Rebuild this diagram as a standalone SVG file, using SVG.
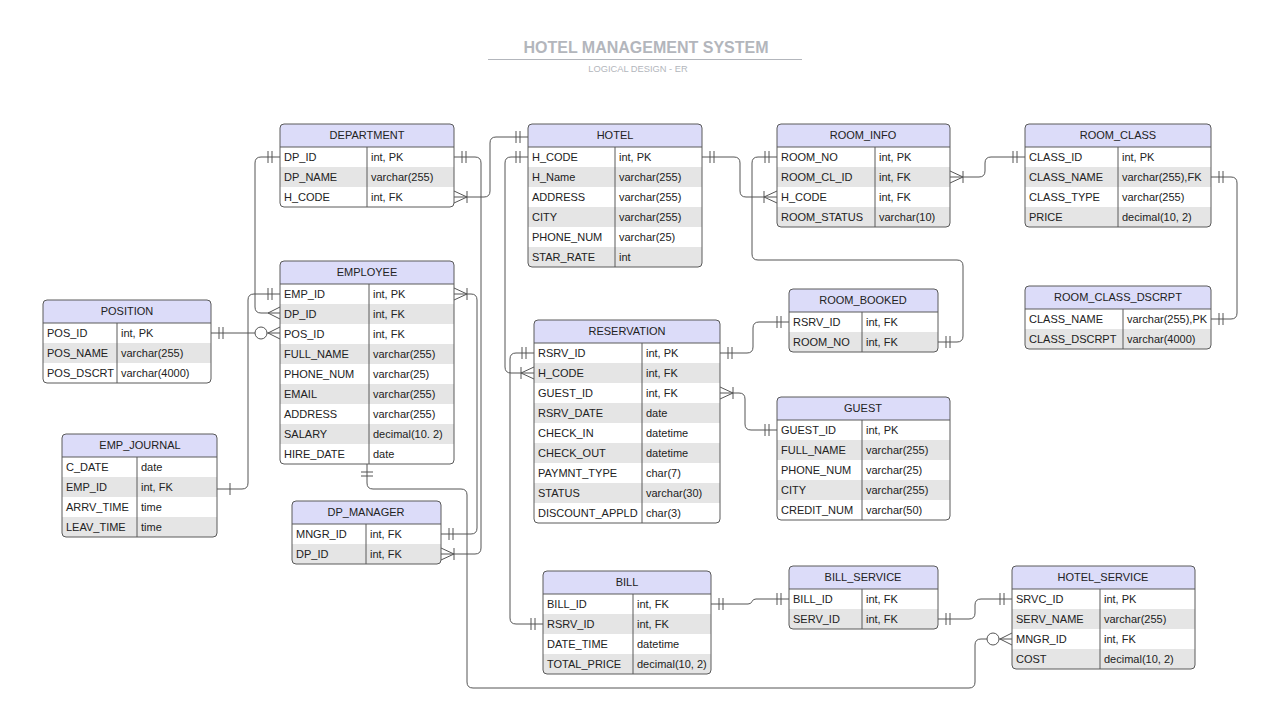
<svg xmlns="http://www.w3.org/2000/svg" width="1280" height="720" viewBox="0 0 1280 720">
<style>
.bg{fill:#fff}
.hd{fill:#dcdcf9}
.st{fill:#e5e5e5}
.bd{fill:none;stroke:#5a5a5a;stroke-width:1}
.dv{stroke:#5a5a5a;stroke-width:1}
.t{font-family:"Liberation Sans",Arial,sans-serif;font-size:11px;fill:#222}
.h{text-anchor:middle}
.c{fill:none;stroke:#555;stroke-width:1;marker-start:var(--ms);marker-end:var(--me)}
.mk{fill:none;stroke:#555;stroke-width:1}
</style>
<defs>
<marker id="one" markerUnits="userSpaceOnUse" orient="auto-start-reverse" viewBox="-30 -10 34 20" markerWidth="34" markerHeight="20" refX="0" refY="0" overflow="visible">
<path class="mk" d="M-12,-6V6M-8,-6V6"/>
</marker>
<marker id="bar" markerUnits="userSpaceOnUse" orient="auto-start-reverse" viewBox="-30 -10 34 20" markerWidth="34" markerHeight="20" refX="0" refY="0" overflow="visible">
<path class="mk" d="M-13,-6V6"/>
</marker>
<marker id="onemany" markerUnits="userSpaceOnUse" orient="auto-start-reverse" viewBox="-30 -10 34 20" markerWidth="34" markerHeight="20" refX="0" refY="0" overflow="visible">
<path class="mk" d="M-13,0L0,-6M-13,0L0,6M-13,-6V6"/>
</marker>
<marker id="many" markerUnits="userSpaceOnUse" orient="auto-start-reverse" viewBox="-30 -10 34 20" markerWidth="34" markerHeight="20" refX="0" refY="0" overflow="visible">
<path class="mk" d="M-12,0L0,-6M-12,0L0,6"/>
</marker>
<marker id="zeromany" markerUnits="userSpaceOnUse" orient="auto-start-reverse" viewBox="-30 -10 34 20" markerWidth="34" markerHeight="20" refX="0" refY="0" overflow="visible">
<path class="mk" d="M-12,0L0,-6M-12,0L0,6"/>
<circle cx="-19" cy="0" r="6" fill="#fff" stroke="#555" stroke-width="1"/>
</marker>
</defs>
<rect width="1280" height="720" fill="#fff"/>

<g id="title">
<text x="646" y="53" text-anchor="middle" font-family="Liberation Sans, Arial, sans-serif" font-size="16" font-weight="bold" fill="#b3b6bc">HOTEL MANAGEMENT SYSTEM</text>
<line x1="488" y1="59.5" x2="802" y2="59.5" stroke="#b3b6bc" stroke-width="1"/>
<text x="638" y="72" text-anchor="middle" font-family="Liberation Sans, Arial, sans-serif" font-size="9.3" fill="#b3b6bc">LOGICAL DESIGN - ER</text>
</g>

<g id="connectors">
<path class="c" style="--ms:url(#one);--me:url(#many)" d="M280,157H261Q255,157 255,163V307Q255,313 261,313H280"/>
<path class="c" style="--ms:url(#bar);--me:url(#one)" d="M217,489H242Q248,489 248,483V300Q248,294 254,294H280"/>
<path class="c" style="--ms:url(#one);--me:url(#zeromany)" d="M211,333H280"/>
<path class="c" style="--ms:url(#onemany);--me:url(#one)" d="M454,197H484Q490,197 490,191V143Q490,137 496,137H528"/>
<path class="c" style="--ms:url(#one);--me:url(#onemany)" d="M454,157H475Q481,157 481,163V548Q481,554 475,554H441"/>
<path class="c" style="--ms:url(#onemany);--me:url(#one)" d="M454,294H471Q477,294 477,300V528Q477,534 471,534H441"/>
<path class="c" style="--ms:url(#one);--me:url(#zeromany)" d="M367,464V483Q367,489 373,489H461Q467,489 467,495V682Q467,688 473,688H969Q975,688 975,682V645Q975,639 981,639H1012"/>
<path class="c" style="--ms:url(#one);--me:url(#onemany)" d="M528,157H511Q505,157 505,163V367Q505,373 511,373H534"/>
<path class="c" style="--ms:url(#one);--me:url(#onemany)" d="M702,157H734Q740,157 740,163V191Q740,197 746,197H777"/>
<path class="c" style="--ms:url(#one);--me:url(#one)" d="M777,157H758Q752,157 752,163V254Q752,260 758,260H957Q963,260 963,266V336Q963,342 957,342H938"/>
<path class="c" style="--ms:url(#onemany);--me:url(#one)" d="M950,177H979Q985,177 985,171V163Q985,157 991,157H1025"/>
<path class="c" style="--ms:url(#one);--me:url(#one)" d="M1211,177H1231Q1237,177 1237,183V313Q1237,319 1231,319H1211"/>
<path class="c" style="--ms:url(#one);--me:url(#one)" d="M720,353H747Q753,353 753,347V328Q753,322 759,322H789"/>
<path class="c" style="--ms:url(#onemany);--me:url(#one)" d="M720,393H739Q745,393 745,399V424Q745,430 751,430H777"/>
<path class="c" style="--ms:url(#one);--me:url(#one)" d="M534,353H516Q510,353 510,359V618Q510,624 516,624H543"/>
<path class="c" style="--ms:url(#one);--me:url(#one)" d="M711,604H748Q751,604 752,601.5Q753,599 756,599H789"/>
<path class="c" style="--ms:url(#one);--me:url(#one)" d="M938,619H969Q975,619 975,613V605Q975,599 981,599H1012"/>
</g>

<g id="DEPARTMENT">
<rect class="bg" x="280" y="124" width="174" height="83" rx="4"/>
<path class="hd" d="M280,147V128Q280,124 284,124H450Q454,124 454,128V147Z"/>
<rect class="st" x="280" y="167" width="174" height="20"/>
<line class="dv" x1="280" y1="147" x2="454" y2="147"/>
<line class="dv" x1="367" y1="147" x2="367" y2="207"/>
<rect class="bd" x="280" y="124" width="174" height="83" rx="4"/>
<text class="t h" x="367" y="139">DEPARTMENT</text>
<text class="t" x="284" y="161">DP_ID</text><text class="t" x="371" y="161">int, PK</text>
<text class="t" x="284" y="181">DP_NAME</text><text class="t" x="371" y="181">varchar(255)</text>
<text class="t" x="284" y="201">H_CODE</text><text class="t" x="371" y="201">int, FK</text>
</g>

<g id="HOTEL">
<rect class="bg" x="528" y="124" width="174" height="143" rx="4"/>
<path class="hd" d="M528,147V128Q528,124 532,124H698Q702,124 702,128V147Z"/>
<rect class="st" x="528" y="167" width="174" height="20"/>
<rect class="st" x="528" y="207" width="174" height="20"/>
<path class="st" d="M528,247H702V263Q702,267 698,267H532Q528,267 528,263Z"/>
<line class="dv" x1="528" y1="147" x2="702" y2="147"/>
<line class="dv" x1="615" y1="147" x2="615" y2="267"/>
<rect class="bd" x="528" y="124" width="174" height="143" rx="4"/>
<text class="t h" x="615" y="139">HOTEL</text>
<text class="t" x="532" y="161">H_CODE</text><text class="t" x="619" y="161">int, PK</text>
<text class="t" x="532" y="181">H_Name</text><text class="t" x="619" y="181">varchar(255)</text>
<text class="t" x="532" y="201">ADDRESS</text><text class="t" x="619" y="201">varchar(255)</text>
<text class="t" x="532" y="221">CITY</text><text class="t" x="619" y="221">varchar(255)</text>
<text class="t" x="532" y="241">PHONE_NUM</text><text class="t" x="619" y="241">varchar(25)</text>
<text class="t" x="532" y="261">STAR_RATE</text><text class="t" x="619" y="261">int</text>
</g>

<g id="ROOM_INFO">
<rect class="bg" x="777" y="124" width="173" height="103" rx="4"/>
<path class="hd" d="M777,147V128Q777,124 781,124H946Q950,124 950,128V147Z"/>
<rect class="st" x="777" y="167" width="173" height="20"/>
<path class="st" d="M777,207H950V223Q950,227 946,227H781Q777,227 777,223Z"/>
<line class="dv" x1="777" y1="147" x2="950" y2="147"/>
<line class="dv" x1="875" y1="147" x2="875" y2="227"/>
<rect class="bd" x="777" y="124" width="173" height="103" rx="4"/>
<text class="t h" x="863" y="139">ROOM_INFO</text>
<text class="t" x="781" y="161">ROOM_NO</text><text class="t" x="879" y="161">int, PK</text>
<text class="t" x="781" y="181">ROOM_CL_ID</text><text class="t" x="879" y="181">int, FK</text>
<text class="t" x="781" y="201">H_CODE</text><text class="t" x="879" y="201">int, FK</text>
<text class="t" x="781" y="221">ROOM_STATUS</text><text class="t" x="879" y="221">varchar(10)</text>
</g>

<g id="ROOM_CLASS">
<rect class="bg" x="1025" y="124" width="186" height="103" rx="4"/>
<path class="hd" d="M1025,147V128Q1025,124 1029,124H1207Q1211,124 1211,128V147Z"/>
<rect class="st" x="1025" y="167" width="186" height="20"/>
<path class="st" d="M1025,207H1211V223Q1211,227 1207,227H1029Q1025,227 1025,223Z"/>
<line class="dv" x1="1025" y1="147" x2="1211" y2="147"/>
<line class="dv" x1="1118" y1="147" x2="1118" y2="227"/>
<rect class="bd" x="1025" y="124" width="186" height="103" rx="4"/>
<text class="t h" x="1118" y="139">ROOM_CLASS</text>
<text class="t" x="1029" y="161">CLASS_ID</text><text class="t" x="1122" y="161">int, PK</text>
<text class="t" x="1029" y="181">CLASS_NAME</text><text class="t" x="1122" y="181">varchar(255),FK</text>
<text class="t" x="1029" y="201">CLASS_TYPE</text><text class="t" x="1122" y="201">varchar(255)</text>
<text class="t" x="1029" y="221">PRICE</text><text class="t" x="1122" y="221">decimal(10, 2)</text>
</g>

<g id="ROOM_CLASS_DSCRPT">
<rect class="bg" x="1025" y="286" width="186" height="63" rx="4"/>
<path class="hd" d="M1025,309V290Q1025,286 1029,286H1207Q1211,286 1211,290V309Z"/>
<path class="st" d="M1025,329H1211V345Q1211,349 1207,349H1029Q1025,349 1025,345Z"/>
<line class="dv" x1="1025" y1="309" x2="1211" y2="309"/>
<line class="dv" x1="1123" y1="309" x2="1123" y2="349"/>
<rect class="bd" x="1025" y="286" width="186" height="63" rx="4"/>
<text class="t h" x="1118" y="301">ROOM_CLASS_DSCRPT</text>
<text class="t" x="1029" y="323">CLASS_NAME</text><text class="t" x="1127" y="323">varchar(255),PK</text>
<text class="t" x="1029" y="343">CLASS_DSCRPT</text><text class="t" x="1127" y="343">varchar(4000)</text>
</g>

<g id="POSITION">
<rect class="bg" x="43" y="300" width="168" height="83" rx="4"/>
<path class="hd" d="M43,323V304Q43,300 47,300H207Q211,300 211,304V323Z"/>
<rect class="st" x="43" y="343" width="168" height="20"/>
<line class="dv" x1="43" y1="323" x2="211" y2="323"/>
<line class="dv" x1="117" y1="323" x2="117" y2="383"/>
<rect class="bd" x="43" y="300" width="168" height="83" rx="4"/>
<text class="t h" x="127" y="315">POSITION</text>
<text class="t" x="47" y="337">POS_ID</text><text class="t" x="121" y="337">int, PK</text>
<text class="t" x="47" y="357">POS_NAME</text><text class="t" x="121" y="357">varchar(255)</text>
<text class="t" x="47" y="377">POS_DSCRT</text><text class="t" x="121" y="377">varchar(4000)</text>
</g>

<g id="EMPLOYEE">
<rect class="bg" x="280" y="261" width="174" height="203" rx="4"/>
<path class="hd" d="M280,284V265Q280,261 284,261H450Q454,261 454,265V284Z"/>
<rect class="st" x="280" y="304" width="174" height="20"/>
<rect class="st" x="280" y="344" width="174" height="20"/>
<rect class="st" x="280" y="384" width="174" height="20"/>
<rect class="st" x="280" y="424" width="174" height="20"/>
<line class="dv" x1="280" y1="284" x2="454" y2="284"/>
<line class="dv" x1="369" y1="284" x2="369" y2="464"/>
<rect class="bd" x="280" y="261" width="174" height="203" rx="4"/>
<text class="t h" x="367" y="276">EMPLOYEE</text>
<text class="t" x="284" y="298">EMP_ID</text><text class="t" x="373" y="298">int, PK</text>
<text class="t" x="284" y="318">DP_ID</text><text class="t" x="373" y="318">int, FK</text>
<text class="t" x="284" y="338">POS_ID</text><text class="t" x="373" y="338">int, FK</text>
<text class="t" x="284" y="358">FULL_NAME</text><text class="t" x="373" y="358">varchar(255)</text>
<text class="t" x="284" y="378">PHONE_NUM</text><text class="t" x="373" y="378">varchar(25)</text>
<text class="t" x="284" y="398">EMAIL</text><text class="t" x="373" y="398">varchar(255)</text>
<text class="t" x="284" y="418">ADDRESS</text><text class="t" x="373" y="418">varchar(255)</text>
<text class="t" x="284" y="438">SALARY</text><text class="t" x="373" y="438">decimal(10. 2)</text>
<text class="t" x="284" y="458">HIRE_DATE</text><text class="t" x="373" y="458">date</text>
</g>

<g id="EMP_JOURNAL">
<rect class="bg" x="62" y="434" width="155" height="103" rx="4"/>
<path class="hd" d="M62,457V438Q62,434 66,434H213Q217,434 217,438V457Z"/>
<rect class="st" x="62" y="477" width="155" height="20"/>
<path class="st" d="M62,517H217V533Q217,537 213,537H66Q62,537 62,533Z"/>
<line class="dv" x1="62" y1="457" x2="217" y2="457"/>
<line class="dv" x1="137" y1="457" x2="137" y2="537"/>
<rect class="bd" x="62" y="434" width="155" height="103" rx="4"/>
<text class="t h" x="140" y="449">EMP_JOURNAL</text>
<text class="t" x="66" y="471">C_DATE</text><text class="t" x="141" y="471">date</text>
<text class="t" x="66" y="491">EMP_ID</text><text class="t" x="141" y="491">int, FK</text>
<text class="t" x="66" y="511">ARRV_TIME</text><text class="t" x="141" y="511">time</text>
<text class="t" x="66" y="531">LEAV_TIME</text><text class="t" x="141" y="531">time</text>
</g>

<g id="DP_MANAGER">
<rect class="bg" x="292" y="501" width="149" height="63" rx="4"/>
<path class="hd" d="M292,524V505Q292,501 296,501H437Q441,501 441,505V524Z"/>
<path class="st" d="M292,544H441V560Q441,564 437,564H296Q292,564 292,560Z"/>
<line class="dv" x1="292" y1="524" x2="441" y2="524"/>
<line class="dv" x1="366" y1="524" x2="366" y2="564"/>
<rect class="bd" x="292" y="501" width="149" height="63" rx="4"/>
<text class="t h" x="366" y="516">DP_MANAGER</text>
<text class="t" x="296" y="538">MNGR_ID</text><text class="t" x="370" y="538">int, FK</text>
<text class="t" x="296" y="558">DP_ID</text><text class="t" x="370" y="558">int, FK</text>
</g>

<g id="RESERVATION">
<rect class="bg" x="534" y="320" width="186" height="203" rx="4"/>
<path class="hd" d="M534,343V324Q534,320 538,320H716Q720,320 720,324V343Z"/>
<rect class="st" x="534" y="363" width="186" height="20"/>
<rect class="st" x="534" y="403" width="186" height="20"/>
<rect class="st" x="534" y="443" width="186" height="20"/>
<rect class="st" x="534" y="483" width="186" height="20"/>
<line class="dv" x1="534" y1="343" x2="720" y2="343"/>
<line class="dv" x1="642" y1="343" x2="642" y2="523"/>
<rect class="bd" x="534" y="320" width="186" height="203" rx="4"/>
<text class="t h" x="627" y="335">RESERVATION</text>
<text class="t" x="538" y="357">RSRV_ID</text><text class="t" x="646" y="357">int, PK</text>
<text class="t" x="538" y="377">H_CODE</text><text class="t" x="646" y="377">int, FK</text>
<text class="t" x="538" y="397">GUEST_ID</text><text class="t" x="646" y="397">int, FK</text>
<text class="t" x="538" y="417">RSRV_DATE</text><text class="t" x="646" y="417">date</text>
<text class="t" x="538" y="437">CHECK_IN</text><text class="t" x="646" y="437">datetime</text>
<text class="t" x="538" y="457">CHECK_OUT</text><text class="t" x="646" y="457">datetime</text>
<text class="t" x="538" y="477">PAYMNT_TYPE</text><text class="t" x="646" y="477">char(7)</text>
<text class="t" x="538" y="497">STATUS</text><text class="t" x="646" y="497">varchar(30)</text>
<text class="t" x="538" y="517">DISCOUNT_APPLD</text><text class="t" x="646" y="517">char(3)</text>
</g>

<g id="ROOM_BOOKED">
<rect class="bg" x="789" y="289" width="149" height="63" rx="4"/>
<path class="hd" d="M789,312V293Q789,289 793,289H934Q938,289 938,293V312Z"/>
<path class="st" d="M789,332H938V348Q938,352 934,352H793Q789,352 789,348Z"/>
<line class="dv" x1="789" y1="312" x2="938" y2="312"/>
<line class="dv" x1="862" y1="312" x2="862" y2="352"/>
<rect class="bd" x="789" y="289" width="149" height="63" rx="4"/>
<text class="t h" x="863" y="304">ROOM_BOOKED</text>
<text class="t" x="793" y="326">RSRV_ID</text><text class="t" x="866" y="326">int, FK</text>
<text class="t" x="793" y="346">ROOM_NO</text><text class="t" x="866" y="346">int, FK</text>
</g>

<g id="GUEST">
<rect class="bg" x="777" y="397" width="173" height="123" rx="4"/>
<path class="hd" d="M777,420V401Q777,397 781,397H946Q950,397 950,401V420Z"/>
<rect class="st" x="777" y="440" width="173" height="20"/>
<rect class="st" x="777" y="480" width="173" height="20"/>
<line class="dv" x1="777" y1="420" x2="950" y2="420"/>
<line class="dv" x1="862" y1="420" x2="862" y2="520"/>
<rect class="bd" x="777" y="397" width="173" height="123" rx="4"/>
<text class="t h" x="863" y="412">GUEST</text>
<text class="t" x="781" y="434">GUEST_ID</text><text class="t" x="866" y="434">int, PK</text>
<text class="t" x="781" y="454">FULL_NAME</text><text class="t" x="866" y="454">varchar(255)</text>
<text class="t" x="781" y="474">PHONE_NUM</text><text class="t" x="866" y="474">varchar(25)</text>
<text class="t" x="781" y="494">CITY</text><text class="t" x="866" y="494">varchar(255)</text>
<text class="t" x="781" y="514">CREDIT_NUM</text><text class="t" x="866" y="514">varchar(50)</text>
</g>

<g id="BILL">
<rect class="bg" x="543" y="571" width="168" height="103" rx="4"/>
<path class="hd" d="M543,594V575Q543,571 547,571H707Q711,571 711,575V594Z"/>
<rect class="st" x="543" y="614" width="168" height="20"/>
<path class="st" d="M543,654H711V670Q711,674 707,674H547Q543,674 543,670Z"/>
<line class="dv" x1="543" y1="594" x2="711" y2="594"/>
<line class="dv" x1="633" y1="594" x2="633" y2="674"/>
<rect class="bd" x="543" y="571" width="168" height="103" rx="4"/>
<text class="t h" x="627" y="586">BILL</text>
<text class="t" x="547" y="608">BILL_ID</text><text class="t" x="637" y="608">int, FK</text>
<text class="t" x="547" y="628">RSRV_ID</text><text class="t" x="637" y="628">int, FK</text>
<text class="t" x="547" y="648">DATE_TIME</text><text class="t" x="637" y="648">datetime</text>
<text class="t" x="547" y="668">TOTAL_PRICE</text><text class="t" x="637" y="668">decimal(10, 2)</text>
</g>

<g id="BILL_SERVICE">
<rect class="bg" x="789" y="566" width="149" height="63" rx="4"/>
<path class="hd" d="M789,589V570Q789,566 793,566H934Q938,566 938,570V589Z"/>
<path class="st" d="M789,609H938V625Q938,629 934,629H793Q789,629 789,625Z"/>
<line class="dv" x1="789" y1="589" x2="938" y2="589"/>
<line class="dv" x1="862" y1="589" x2="862" y2="629"/>
<rect class="bd" x="789" y="566" width="149" height="63" rx="4"/>
<text class="t h" x="863" y="581">BILL_SERVICE</text>
<text class="t" x="793" y="603">BILL_ID</text><text class="t" x="866" y="603">int, FK</text>
<text class="t" x="793" y="623">SERV_ID</text><text class="t" x="866" y="623">int, FK</text>
</g>

<g id="HOTEL_SERVICE">
<rect class="bg" x="1012" y="566" width="183" height="103" rx="4"/>
<path class="hd" d="M1012,589V570Q1012,566 1016,566H1191Q1195,566 1195,570V589Z"/>
<rect class="st" x="1012" y="609" width="183" height="20"/>
<path class="st" d="M1012,649H1195V665Q1195,669 1191,669H1016Q1012,669 1012,665Z"/>
<line class="dv" x1="1012" y1="589" x2="1195" y2="589"/>
<line class="dv" x1="1100" y1="589" x2="1100" y2="669"/>
<rect class="bd" x="1012" y="566" width="183" height="103" rx="4"/>
<text class="t h" x="1103" y="581">HOTEL_SERVICE</text>
<text class="t" x="1016" y="603">SRVC_ID</text><text class="t" x="1104" y="603">int, PK</text>
<text class="t" x="1016" y="623">SERV_NAME</text><text class="t" x="1104" y="623">varchar(255)</text>
<text class="t" x="1016" y="643">MNGR_ID</text><text class="t" x="1104" y="643">int, FK</text>
<text class="t" x="1016" y="663">COST</text><text class="t" x="1104" y="663">decimal(10, 2)</text>
</g>
</svg>
